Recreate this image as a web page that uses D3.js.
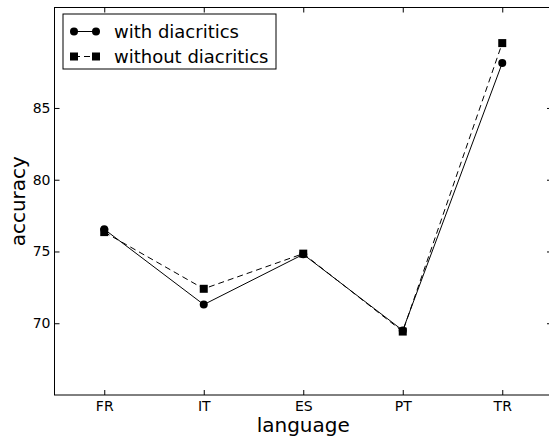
<!doctype html>
<html>
<head>
  <meta charset="utf-8">
  <title>accuracy by language</title>
  <style>
    body { margin: 0; background: #fff; }
    svg { display: block; font-family: "DejaVu Sans", sans-serif; }
  </style>
</head>
<body>
  <div id="vis"></div>
  <script src="https://cdn.jsdelivr.net/npm/d3@7"></script>
  <script>
    var languages = ["FR", "IT", "ES", "PT", "TR"];
    var withDiacritics = [76.55, 71.3, 74.8, 69.5, 88.13];
    var withoutDiacritics = [76.35, 72.4, 74.85, 69.42, 89.52];
    var yTicks = [70, 75, 80, 85];

    var w = 549, h = 437;
    // plot box (right edge sits just past the window, as in the original)
    var plotL = 54.5, plotR = 552, plotT = 7.5, plotB = 395;

    var svg = d3.select("#vis").append("svg")
      .attr("width", w)
      .attr("height", h);

    var x = d3.scalePoint()
      .domain(languages)
      .range([plotL, plotR])
      .padding(0.5);

    var y = d3.scaleLinear()
      .domain([65, 92])
      .range([plotB, plotT]);

    function styleAxis(g) {
      g.select(".domain").remove();
      g.selectAll(".tick line").attr("stroke", "#000");
      g.selectAll(".tick text")
        .attr("fill", "#000")
        .style("font-size", "14px")
        .style("font-family", "DejaVu Sans");
    }

    svg.append("g")
      .attr("transform", "translate(0," + plotB + ")")
      .call(d3.axisBottom(x).tickSize(-5).tickPadding(6))
      .call(styleAxis);

    svg.append("g")
      .attr("transform", "translate(0," + plotT + ")")
      .call(d3.axisTop(x).tickSize(-5).tickFormat(""))
      .call(styleAxis);

    svg.append("g")
      .attr("transform", "translate(" + plotL + ",0)")
      .call(d3.axisLeft(y).tickValues(yTicks).tickSize(-5).tickPadding(4))
      .call(styleAxis);

    svg.append("g")
      .attr("transform", "translate(" + plotR + ",0)")
      .call(d3.axisRight(y).tickValues(yTicks).tickSize(-5).tickFormat(""))
      .call(styleAxis);

    // frame
    svg.append("rect")
      .attr("x", plotL).attr("y", plotT)
      .attr("width", plotR - plotL).attr("height", plotB - plotT)
      .attr("fill", "none").attr("stroke", "#000").attr("stroke-width", 1);

    var line = d3.line()
      .x(function(d, i) { return x(languages[i]); })
      .y(function(d) { return y(d); });

    svg.append("path")
      .datum(withDiacritics)
      .attr("d", line)
      .attr("fill", "none")
      .attr("stroke", "#000")
      .attr("stroke-width", 1);

    svg.selectAll("circle.with")
      .data(withDiacritics)
      .enter()
      .append("circle")
      .attr("class", "with")
      .attr("cx", function(d, i) { return x(languages[i]); })
      .attr("cy", function(d) { return y(d); })
      .attr("r", 4)
      .attr("fill", "#000");

    svg.append("path")
      .datum(withoutDiacritics)
      .attr("d", line)
      .attr("fill", "none")
      .attr("stroke", "#000")
      .attr("stroke-width", 1)
      .attr("stroke-dasharray", "6,4");

    svg.selectAll("rect.without")
      .data(withoutDiacritics)
      .enter()
      .append("rect")
      .attr("class", "without")
      .attr("x", function(d, i) { return x(languages[i]) - 4; })
      .attr("y", function(d) { return y(d) - 4; })
      .attr("width", 8)
      .attr("height", 8)
      .attr("fill", "#000");

    // axis titles
    svg.append("text")
      .attr("x", (plotL + plotR) / 2)
      .attr("y", 432)
      .attr("text-anchor", "middle")
      .style("font-size", "20px")
      .text("language");

    svg.append("text")
      .attr("transform", "translate(25," + ((plotT + plotB) / 2) + ") rotate(-90)")
      .attr("text-anchor", "middle")
      .style("font-size", "20px")
      .text("accuracy");

    // legend
    var legend = svg.append("g");
    legend.append("rect")
      .attr("x", 63).attr("y", 14)
      .attr("width", 213).attr("height", 55)
      .attr("fill", "#fff").attr("stroke", "#000");

    var row1 = legend.append("g").attr("transform", "translate(0,31.5)");
    row1.append("line").attr("x1", 74).attr("x2", 96)
      .attr("stroke", "#000");
    row1.selectAll("circle").data([74, 96]).enter().append("circle")
      .attr("cx", function(d) { return d; }).attr("cy", 0).attr("r", 4);
    row1.append("text").attr("x", 114).attr("y", 6.5)
      .style("font-size", "18px").text("with diacritics");

    var row2 = legend.append("g").attr("transform", "translate(0,56.5)");
    row2.append("line").attr("x1", 74).attr("x2", 96)
      .attr("stroke", "#000").attr("stroke-dasharray", "6,4");
    row2.selectAll("rect").data([74, 96]).enter().append("rect")
      .attr("x", function(d) { return d - 4; }).attr("y", -4)
      .attr("width", 8).attr("height", 8);
    row2.append("text").attr("x", 114).attr("y", 6.5)
      .style("font-size", "18px").text("without diacritics");
  </script>
</body>
</html>
